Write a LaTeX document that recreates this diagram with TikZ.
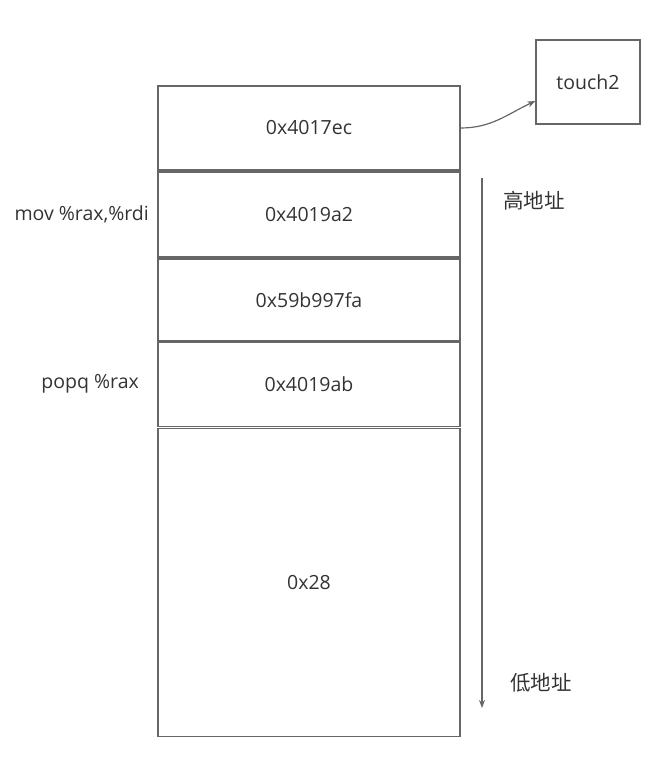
\documentclass[tikz,border=0pt]{standalone}
\usepackage{fontspec}
\setmainfont{Open Sans}
\newfontfamily\cjk{Noto Sans CJK SC}
\usetikzlibrary{arrows.meta, positioning}
\definecolor{linegray}{HTML}{666666}
\definecolor{txtgray}{HTML}{333333}

\begin{document}
\begin{tikzpicture}[x=1pt, y=-1pt, node distance=0.8pt,
    every node/.style={text=txtgray, font=\fontsize{19.5}{22}\selectfont},
    cell/.style={draw=linegray, line width=1.2pt, minimum width=302pt, inner sep=0pt},
    cjklbl/.style={font=\cjk\fontsize{20.5}{22}\selectfont}]
    \useasboundingbox (0,0) rectangle (650,757);
    % Stack frame
    \node (ret) [cell, minimum height=84pt] at (309,128) {0x4017ec};
    \node (movg) [cell, minimum height=85pt, below=of ret] {0x4019a2};
    \node (cookie) [cell, minimum height=82pt, below=of movg] {0x59b997fa};
    \node (popg) [cell, minimum height=84pt, below=0pt of cookie] {0x4019ab};
    \node (pad) [cell, minimum height=308pt, below=of popg] {0x28};
    % Target
    \node (touch) [cell, minimum width=104pt, minimum height=84pt] at (588,82) {touch2};
    % Gadget labels
    \node (movlbl) [left=5pt of movg] {mov \%rax,\%rdi};
    \node (poplbl) [left=15pt of popg] {popq \%rax};
    % Address direction
    \coordinate (hi) at (482,178);
    \coordinate (lo) at (482,708);
    \node (hilbl) [cjklbl] at (534,201) {高地址};
    \node (lolbl) [cjklbl] at (541,683) {低地址};

    % Arrows
    \draw [linegray, line width=1.2pt, -{Stealth[length=8pt, width=6pt]}]
        (ret.east) to[out=0, in=205] ([yshift=-19pt]touch.west);
    \draw [linegray, line width=1.2pt, -{Stealth[length=8pt, width=6pt]}] (hi) -- (lo);
\end{tikzpicture}
\end{document}
